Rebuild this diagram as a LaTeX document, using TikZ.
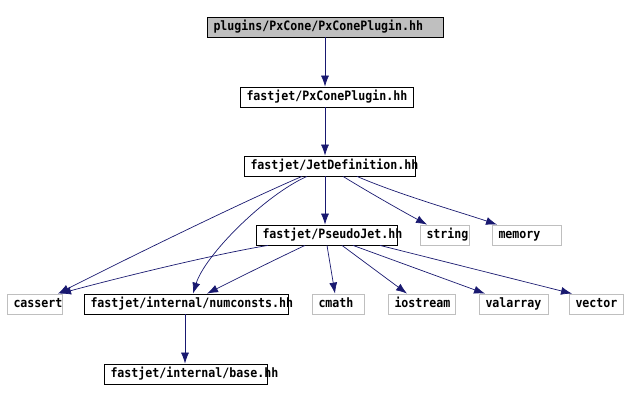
\documentclass[tikz,border=0pt]{standalone}
\usepackage{fontspec}
\setmonofont[FakeStretch=0.9]{DejaVu Sans Mono}
\usetikzlibrary{arrows.meta}
\definecolor{edgecol}{HTML}{191970}
\definecolor{sysgray}{HTML}{BFBFBF}
\tikzset{
  box/.style={draw=black, rectangle, minimum height=20pt, inner xsep=6.5pt, inner ysep=0pt,
    text height=9.5pt, text depth=2.5pt,
    align=left, font=\ttfamily\bfseries\fontsize{12.9}{13}\selectfont, line width=0.8pt},
  sysbox/.style={box, draw=sysgray},
  rootbox/.style={box, fill=sysgray},
  edge/.style={draw=edgecol, line width=0.7pt, -{Latex[length=11pt,width=8pt]}},
}
\begin{document}
\begin{tikzpicture}[x=1pt,y=-1pt]
\useasboundingbox (0,0) rectangle (628,401);
\node[rootbox, text width=223pt] (top) at (325,27) {plugins/PxCone/PxConePlugin.hh};
\node[box, text width=160pt] (pxc) at (326.5,97) {fastjet/PxConePlugin.hh};
\node[box, text width=158pt] (jd) at (329.5,166) {fastjet/JetDefinition.hh};
\node[box, text width=128pt] (pj) at (326.5,235) {fastjet/PseudoJet.hh};
\node[sysbox, text width=36pt] (string) at (444.5,235) {string};
\node[sysbox, text width=56pt] (memory) at (526.5,235) {memory};
\node[sysbox, text width=42pt] (cassert) at (34.5,304) {cassert};
\node[box, text width=191pt] (numc) at (186,304) {fastjet/internal/numconsts.hh};
\node[sysbox, text width=39pt] (cmath) at (338,304) {cmath};
\node[sysbox, text width=54pt] (iostream) at (421.5,304) {iostream};
\node[sysbox, text width=56pt] (valarray) at (513.5,304) {valarray};
\node[sysbox, text width=41pt] (vector) at (596,304) {vector};
\node[box, text width=150pt] (base) at (185.5,374) {fastjet/internal/base.hh};

\draw[edge] (top.south) -- ([xshift=-1.5pt]pxc.north);
\draw[edge] ([xshift=-1.5pt]pxc.south) -- ([xshift=-4.5pt]jd.north);
\draw[edge] ([xshift=-4.5pt]jd.south) -- ([xshift=-1.5pt]pj.north);
\draw[edge] ([xshift=-27.5pt]jd.south) .. controls (240,203) and (120,262) .. ([xshift=23.5pt]cassert.north);
\draw[edge] ([xshift=-22.5pt]jd.south) .. controls (265,195) and (205,255) .. ([xshift=7pt]numc.north);
\draw[edge] ([xshift=13.5pt]jd.south) .. controls (365,190) and (400,210) .. ([xshift=-17.5pt]string.north);
\draw[edge] ([xshift=27.5pt]jd.south) .. controls (400,195) and (460,212) .. ([xshift=-29.5pt]memory.north);
\draw[edge] ([xshift=-58.5pt]pj.south) .. controls (210,255) and (110,280) .. ([xshift=25.5pt]cassert.north);
\draw[edge] ([xshift=-21.5pt]pj.south) .. controls (270,262) and (230,282) .. ([xshift=21pt]numc.north);
\draw[edge] ([xshift=0.5pt]pj.south) -- ([xshift=-3pt]cmath.north);
\draw[edge] ([xshift=15.5pt]pj.south) -- ([xshift=-14.5pt]iostream.north);
\draw[edge] ([xshift=26.5pt]pj.south) -- ([xshift=-28.5pt]valarray.north);
\draw[edge] ([xshift=53.5pt]pj.south) -- ([xshift=-24pt]vector.north);
\draw[edge] ([xshift=-1pt]numc.south) -- ([xshift=-0.5pt]base.north);
\end{tikzpicture}
\end{document}
